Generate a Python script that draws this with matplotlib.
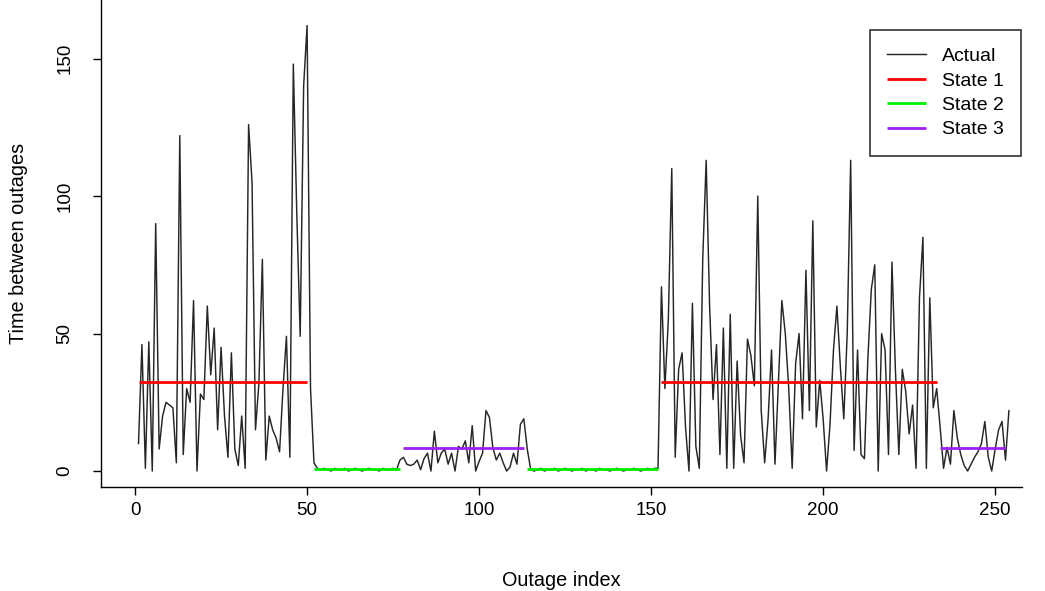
import matplotlib
matplotlib.use("Agg")
import matplotlib.pyplot as plt
import numpy as np

plt.rcParams['font.family'] = ['Liberation Sans', 'DejaVu Sans']

# time between outages, one value per outage, split by regime for readability
seg_a = [10, 46, 1, 47, 0, 90, 8, 20, 25, 24, 23, 3, 122, 6, 30, 25, 62, 0, 28, 26,
         60, 35, 52, 15, 45, 20, 5, 43, 8, 2, 20, 1, 126, 105, 15, 32, 77, 4, 20, 15,
         12, 7, 30, 49, 5, 148, 94, 49, 140, 162, 30, 3]
seg_b = [1, 0.5, 1, 0.5, 0, 1, 0.5, 0.5, 1, 0, 0.5, 1, 0.5, 0, 0.5, 1, 0.5, 0.5, 0, 1,
         0.5, 0.5, 1, 0.5]
seg_c = [4, 5, 2.5, 2, 2.5, 4, 0.5, 4.5, 6.5, 0, 14.5, 3, 6.5, 8, 2.5, 6.5, 0, 9, 8, 11,
         3, 16.5, 0, 3.5, 6.5, 22, 19.5, 8.5, 4, 6.5, 3, 0, 1.5, 6.5, 2.5, 17, 19, 8]
seg_d = [0.5, 0, 0.5, 1, 0, 0.5, 0.5, 1, 0, 0.5, 1, 0.5, 0, 0.5, 0.5, 1, 0, 0.5, 0.5, 0,
         1, 0.5, 0.5, 0, 0.5, 1, 0.5, 0, 0.5, 0.5, 1, 0.5, 0, 0.5, 1, 0.5, 1]
seg_e = [1, 67, 30, 55, 110, 5, 37, 43, 16, 0, 61, 9, 1, 77, 113, 60, 26, 46, 6, 52,
         1, 57, 1, 40, 13, 3, 48, 42, 31, 100, 22, 3, 19, 44, 2.5, 32, 62, 50, 30, 1,
         39, 50, 19, 73, 22, 91, 16, 33, 19, 0, 17, 44, 60, 38, 19, 50, 113, 7.5, 44, 6,
         4.5, 41, 66, 75, 0, 50, 44, 6, 76, 37, 6, 37, 29, 13.5, 24, 1, 63, 85, 1, 63,
         23, 30]
seg_f = [16, 1, 8.6, 2.5, 22, 12, 6, 2, 0, 2.5, 5, 7, 10, 18, 5, 0, 8, 15, 18, 4, 22]

actual = np.array(seg_a + seg_b + seg_c + seg_d + seg_e + seg_f)
idx = np.arange(1, len(actual) + 1)

# fitted hidden states: (first index, last index, state)
state_names = ["State 1", "State 2", "State 3"]
state_colors = ["#ff0000", "#00ee00", "#a020f0"]
state_means = [32.4, 0.7, 8.5]
state_runs = [(1, 50, 0), (52, 77, 1), (78, 113, 2), (114, 152, 1), (153, 233, 0), (234, 253, 2)]

fig = plt.figure(figsize=(10.45, 5.91), dpi=100)
ax = fig.add_axes([101 / 1045, 1 - 487 / 591, (1022 - 101) / 1045, 487 / 591])

ax.plot(idx, actual, color="#262626", lw=1.05, label="Actual")
seen = set()
for start, end, s in state_runs:
    lab = state_names[s] if s not in seen else None
    seen.add(s)
    ax.plot([start, end], [state_means[s], state_means[s]], color=state_colors[s],
            lw=2.0, label=lab, solid_capstyle="butt")

ax.set_xlim(-9.9, 257.8)
ax.set_ylim(-5.8, 171.3)
ax.set_xticks([0, 50, 100, 150, 200, 250])
ax.set_yticks([0, 50, 100, 150])
ax.spines["top"].set_visible(False)
ax.spines["right"].set_visible(False)
for sp in ("left", "bottom"):
    ax.spines[sp].set_linewidth(1.0)
ax.tick_params(axis="both", direction="out", length=6, width=1.0, labelsize=13.5)
ax.tick_params(axis="x", pad=5)
ax.tick_params(axis="y", pad=14)
for t in ax.get_yticklabels():
    t.set_rotation(90)
    t.set_va("center")

ax.set_xlabel("Outage index", fontsize=14.3, labelpad=37)
ax.set_ylabel("Time between outages", fontsize=14.3, labelpad=20)

leg = ax.legend(loc="upper right", bbox_to_anchor=(1021 / 1045, 1 - 30 / 591),
                bbox_transform=fig.transFigure, fontsize=14, frameon=True,
                fancybox=False, edgecolor="black", handlelength=2.0,
                handletextpad=0.8, labelspacing=0.35, borderpad=0.9,
                borderaxespad=0)
leg.get_frame().set_linewidth(1.2)
# same line width in the key as in the plot
for h, lw in zip(leg.get_lines(), [1.05, 2.0, 2.0, 2.0]):
    h.set_linewidth(lw)

fig.savefig("out.png", dpi=100)
